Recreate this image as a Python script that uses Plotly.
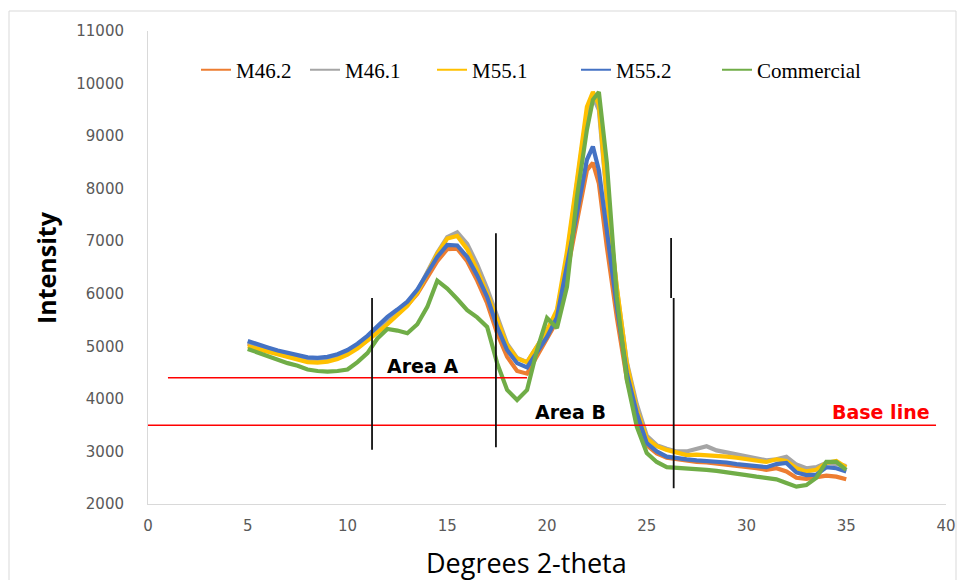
import plotly.graph_objects as go

# ---------------- data ----------------
two_theta = [5, 5.5, 6, 6.5, 7, 7.5, 8, 8.5, 9, 9.5, 10, 10.5, 11, 11.5, 12, 12.5,
             13, 13.5, 14, 14.5, 15, 15.5, 16, 16.5, 17, 17.5, 18, 18.5, 19, 19.5,
             20, 20.5, 21, 21.5, 22, 22.3, 22.6, 23, 23.5, 24, 24.5, 25, 25.5, 26,
             26.5, 27, 27.5, 28, 28.5, 29, 29.5, 30, 30.5, 31, 31.5, 32, 32.5, 33,
             33.5, 34, 34.5, 35]

m46_2 = [5050, 5000, 4950, 4900, 4840, 4790, 4750, 4730, 4740, 4790, 4860, 4980, 5120, 5290, 5470, 5620,
         5780, 6000, 6300, 6620, 6850, 6860, 6620, 6250, 5820, 5250, 4800, 4530, 4480, 4820,
         5150, 5480, 6400, 7400, 8350, 8490, 8100, 6890, 5550, 4380, 3650, 3120, 2960, 2880,
         2850, 2830, 2800, 2790, 2770, 2760, 2730, 2700, 2680, 2650, 2680, 2620, 2500, 2480,
         2500, 2540, 2520, 2470]

m46_1 = [5080, 5030, 4960, 4900, 4850, 4800, 4760, 4740, 4760, 4800, 4880, 5000, 5130, 5300, 5470, 5630,
         5800, 6050, 6400, 6780, 7080, 7170, 6950, 6560, 6100, 5550, 5050, 4780, 4700, 5000,
         5300, 5650, 6700, 8100, 9450, 9750, 9500, 7800, 6100, 4700, 3900, 3300, 3120, 3050,
         3000, 3000, 3050, 3100, 3020, 2980, 2940, 2900, 2870, 2830, 2850, 2900, 2750, 2680,
         2700, 2780, 2760, 2720]

m55_1 = [5000, 4950, 4890, 4830, 4780, 4730, 4700, 4690, 4710, 4760, 4840, 4960, 5100, 5260, 5420, 5590,
         5770, 6020, 6380, 6760, 7050, 7100, 6850, 6450, 6000, 5500, 5020, 4770, 4700, 5000,
         5300, 5700, 6800, 8160, 9560, 9840, 9600, 7840, 6130, 4680, 3800, 3250, 3100, 3030,
         2980, 2930, 2940, 2930, 2910, 2900, 2880, 2850, 2830, 2800, 2850, 2820, 2680, 2620,
         2650, 2780, 2820, 2700]

m55_2 = [5100, 5050, 4980, 4920, 4870, 4820, 4790, 4780, 4800, 4850, 4930, 5050, 5200, 5380, 5560, 5700,
         5850, 6080, 6380, 6700, 6930, 6920, 6700, 6350, 5940, 5370, 4930, 4680, 4600, 4900,
         5180, 5550, 6500, 7530, 8550, 8800, 8350, 7210, 5750, 4490, 3730, 3160, 3000, 2900,
         2870, 2850, 2830, 2820, 2800, 2790, 2760, 2740, 2720, 2700, 2760, 2780, 2600, 2550,
         2560, 2700, 2680, 2620]

commercial = [4950, 4880, 4800, 4740, 4680, 4630, 4560, 4530, 4520, 4530, 4560, 4700, 4870, 5150, 5330, 5300,
              5250, 5420, 5750, 6250, 6100, 5900, 5690, 5550, 5370, 4680, 4170, 3980, 4170, 4930,
              5540, 5350, 6130, 7840, 9120, 9690, 9840, 8490, 5940, 4360, 3470, 2970, 2800, 2700,
              2690, 2690, 2670, 2650, 2630, 2610, 2580, 2550, 2520, 2490, 2470, 2400, 2330, 2360,
              2500, 2800, 2800, 2650]

series_names = ["M46.2", "M46.1", "M55.1", "M55.2", "Commercial"]
series_values = [m46_2, m46_1, m55_1, m55_2, commercial]
series_colors = ["#ED7D31", "#A5A5A5", "#FFC000", "#4472C4", "#70AD47"]

# annotation guide values
base_line = 3500
area_a_line = 4400
area_a_x = [1.0, 19.0]
base_x = [0, 39.5]
boundary_1 = (11.23, 3030, 5920)
boundary_2 = (17.44, 3080, 7150)
boundary_3_upper = (26.22, 5920, 7060)
boundary_3_lower = (26.35, 2300, 5920)

x_ticks = [0, 5, 10, 15, 20, 25, 30, 35, 40]
y_ticks = [2000, 3000, 4000, 5000, 6000, 7000, 8000, 9000, 10000, 11000]

# ---------------- figure ----------------
fig = go.Figure()
legend_ids = ["legend", "legend2", "legend3", "legend4", "legend5"]
for name, vals, col in zip(series_names, series_values, series_colors):
    fig.add_trace(go.Scatter(x=two_theta, y=vals, mode="lines", name=name,
                             line=dict(color=col, width=4.2), showlegend=False))
for name, col, lid in zip(series_names, series_colors, legend_ids):
    fig.add_trace(go.Scatter(x=[None], y=[None], mode="lines", name=name,
                             line=dict(color=col, width=2), legend=lid, showlegend=True))

L, R, T, B = 148, 946, 31, 504  # plot box in screen pixels
W, H = 958, 580

def px(xp):
    return (xp - L) / (R - L)

def py(yp):
    return (B - yp) / (B - T)

legend_font = dict(family="Liberation Serif", size=21, color="#000000")
legend_x = [196, 305, 432, 576, 717]
layout_legends = {}
for lid, xp in zip(legend_ids, legend_x):
    layout_legends[lid] = dict(x=px(xp), y=py(70), xanchor="left", yanchor="middle",
                               orientation="h", font=legend_font, bgcolor="rgba(0,0,0,0)",
                               borderwidth=0, itemwidth=30)

shapes = []
shapes.append(dict(type="line", xref="x", yref="y", x0=area_a_x[0], x1=area_a_x[1],
                   y0=area_a_line, y1=area_a_line, line=dict(color="#FF0000", width=1.5)))
shapes.append(dict(type="line", xref="x", yref="y", x0=base_x[0], x1=base_x[1],
                   y0=base_line, y1=base_line, line=dict(color="#FF0000", width=1.5)))
for bx, y0, y1 in [boundary_1, boundary_2, boundary_3_upper, boundary_3_lower]:
    shapes.append(dict(type="line", xref="x", yref="y", x0=bx, x1=bx, y0=y0, y1=y1,
                       line=dict(color="#111111", width=1.8)))
shapes.append(dict(type="rect", xref="paper", yref="paper", x0=px(9), x1=px(956),
                   y0=py(590), y1=py(11), line=dict(color="#D9D9D9", width=1), layer="below"))

def dx(xp):
    return (xp - L) / (R - L) * 40

def dy(yp):
    return 2000 + (B - yp) / (B - T) * 9000

annotations = [
    dict(text="<b>Area A</b>", x=dx(422), y=dy(366), xref="x", yref="y", showarrow=False,
         font=dict(family="DejaVu Sans", size=19, color="#000000")),
    dict(text="<b>Area B</b>", x=dx(570), y=dy(412), xref="x", yref="y", showarrow=False,
         font=dict(family="DejaVu Sans", size=19, color="#000000")),
    dict(text="<b>Base line</b>", x=dx(881), y=dy(412), xref="x", yref="y", showarrow=False,
         font=dict(family="DejaVu Sans", size=19, color="#FF0000")),
    # axis titles
    dict(text="Degrees 2-theta", x=px(526), y=py(562), xref="paper", yref="paper",
         showarrow=False, xanchor="center", yanchor="middle",
         font=dict(family="Open Sans", size=27, color="#000000")),
    dict(text="<b>Intensity</b>", x=px(46), y=py(268), xref="paper", yref="paper",
         showarrow=False, xanchor="center", yanchor="middle", textangle=-90,
         font=dict(family="Open Sans", size=25, color="#000000")),
]

fig.update_layout(
    width=W, height=H, autosize=False,
    margin=dict(l=L, r=W - R, t=T, b=H - B),
    paper_bgcolor="#FFFFFF", plot_bgcolor="#FFFFFF",
    showlegend=True,
    shapes=shapes, annotations=annotations,
    **layout_legends,
)
fig.update_xaxes(range=[0, 40], tickvals=x_ticks, ticktext=[str(v) for v in x_ticks],
                 showgrid=False, zeroline=False, showline=True, linecolor="#D9D9D9", linewidth=1,
                 ticks="", ticklabelstandoff=8, automargin=False,
                 tickfont=dict(family="DejaVu Sans", size=15, color="#595959"))
fig.update_yaxes(range=[2000, 11000], tickvals=y_ticks, ticktext=[str(v) for v in y_ticks],
                 showgrid=False, zeroline=False, showline=True, linecolor="#D9D9D9", linewidth=1,
                 ticks="", ticklabelstandoff=20, automargin=False,
                 tickfont=dict(family="DejaVu Sans", size=15, color="#595959"))

fig.write_html("out.html", config={"displayModeBar": False},
               post_script="document.body.style.margin='0px';")
